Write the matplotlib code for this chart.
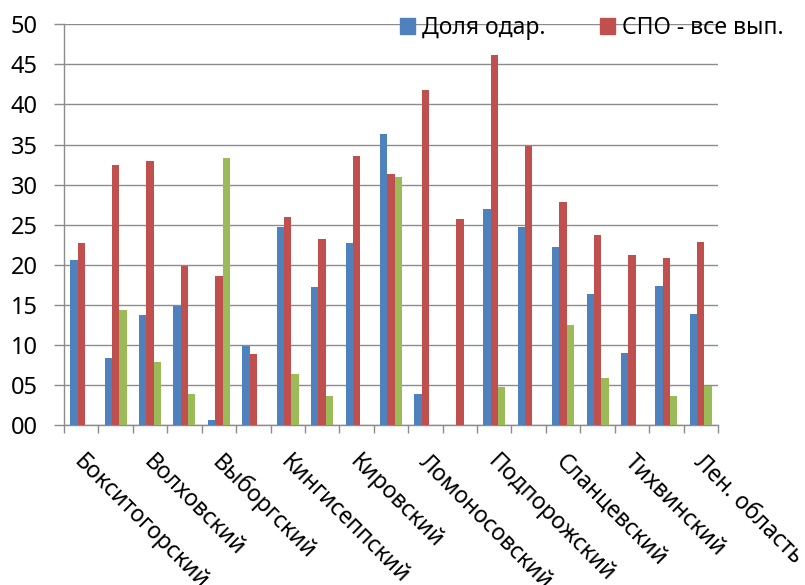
import numpy as np
import matplotlib
matplotlib.use('Agg')
import matplotlib.pyplot as plt
from matplotlib.patches import Patch
from matplotlib.transforms import ScaledTranslation

plt.rcParams['font.family'] = ['Noto Sans', 'DejaVu Sans']

# районы Ленинградской области
districts = ['Бокситогорский', 'Волосовский', 'Волховский', 'Всеволожский',
             'Выборгский', 'Гатчинский', 'Кингисеппский', 'Киришский',
             'Кировский', 'Лодейнопольский', 'Ломоносовский', 'Лужский',
             'Подпорожский', 'Приозерский', 'Сланцевский', 'Сосновоборский',
             'Тихвинский', 'Тосненский', 'Лен. область']

dolya_odar = [20.6, 8.4, 13.7, 14.8, 0.6, 9.8, 24.7, 17.2, 22.7, 36.3,
              3.9, np.nan, 26.9, 24.7, 22.2, 16.3, 9.0, 17.4, 13.9]
spo_all = [22.7, 32.5, 32.9, 19.8, 18.6, 8.8, 25.9, 23.2, 33.6, 31.3,
           41.8, 25.7, 46.2, 34.8, 27.8, 23.7, 21.2, 20.8, 22.8]
third = [np.nan, 14.3, 7.9, 3.9, 33.3, np.nan, 6.4, 3.6, np.nan, 31.0,
         np.nan, np.nan, 4.7, np.nan, 12.5, 5.9, np.nan, 3.6, 4.9]

series_names = ['Доля одар.', 'СПО - все вып.']
colors = ['#4F81BD', '#C0504D', '#9BBB59']
grid_col = '#8C8C8C'

fig = plt.figure(figsize=(8.05, 5.85), dpi=100)
ax = fig.add_axes([64 / 805, 1 - 425 / 585, (718 - 64) / 805, (425 - 24.3) / 585])

x = np.arange(len(districts))
w = 0.213
ax.bar(x - w, dolya_odar, w, color=colors[0], zorder=3)
ax.bar(x, spo_all, w, color=colors[1], zorder=3)
ax.bar(x + w, third, w, color=colors[2], zorder=3)

ax.set_xlim(-0.5, len(districts) - 0.5)
ax.set_ylim(0, 50)
yt = np.arange(0, 51, 5)
ax.set_yticks(yt)
ax.set_yticklabels([f'{v:02d}' for v in yt], fontsize=17)
ax.yaxis.grid(True, color=grid_col, linewidth=1.0, zorder=0)
ax.set_axisbelow(True)

# подписи через одну
ax.set_xticks(x[::2])
ax.set_xticklabels(districts[::2], rotation=-45, ha='left', va='top',
                   rotation_mode='anchor', fontsize=16.5)
ax.set_xticks(np.arange(-0.5, len(districts), 1), minor=True)
ax.tick_params(axis='x', which='major', length=0, pad=18)
ax.tick_params(axis='x', which='minor', length=6, color=grid_col, width=1.0)
ax.tick_params(axis='y', length=7, color=grid_col, width=1.0, pad=12)

shift = ScaledTranslation(5 / 100, 0, fig.dpi_scale_trans)
for lab in ax.get_xticklabels():
    lab.set_transform(lab.get_transform() + shift)

for s in ['top', 'right']:
    ax.spines[s].set_visible(False)
for s in ['left', 'bottom']:
    ax.spines[s].set_color(grid_col)
    ax.spines[s].set_linewidth(1.0)

handles = [Patch(color=colors[0]), Patch(color=colors[1])]
fig.legend(handles, series_names, loc='center left',
           bbox_to_anchor=(400 / 805, 1 - 28 / 585), ncol=2, frameon=False,
           fontsize=16.5, handlelength=0.64, handleheight=0.64,
           handletextpad=0.3, columnspacing=2.4, borderpad=0, borderaxespad=0)

fig.savefig('out.png', dpi=100)
